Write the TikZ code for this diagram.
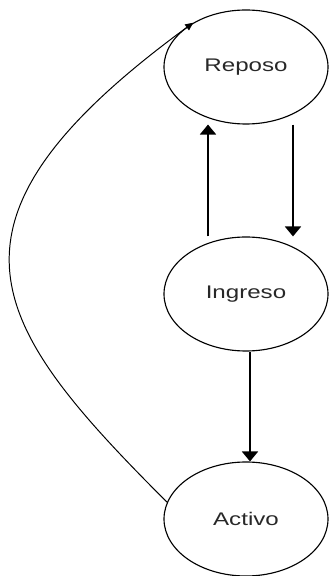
\documentclass[tikz,border=0pt]{standalone}
\usepackage{fontspec}
\setmainfont{Liberation Sans}
\usepackage{graphicx}
\usepackage{tikz}
\usetikzlibrary{shapes.geometric, arrows.meta, positioning}
\definecolor{statetext}{RGB}{40, 40, 40}

% horizontally stretched state label
\newcommand{\statelabel}[1]{\scalebox{1.32}[1]{#1}}

\begin{document}
\begin{tikzpicture}[
  state/.style={draw=black, ellipse, line width=0.8pt, minimum width=4.1cm, minimum height=2.85cm, inner sep=0pt, text=statetext, font=\fontsize{13}{15}\selectfont},
  arrow/.style={-{Triangle[length=2.5mm, width=4mm]}, line width=1.4pt},
  looparrow/.style={-{Triangle[length=2mm, width=1.8mm]}, line width=0.7pt}
]
\useasboundingbox (0, 0) rectangle (8.225, 14.4);

% States
\node[state] (reposo) at (6.15, 12.725) {\statelabel{Reposo}};
\node[state] (ingreso) at (6.15, 7.05) {\statelabel{Ingreso}};
\node[state] (activo) at (6.15, 1.425) {\statelabel{Activo}};

% Transitions between Reposo and Ingreso
\draw[arrow] ([xshift=-0.95cm]ingreso.north) -- ([xshift=-0.95cm]reposo.south);
\draw[arrow] ([xshift=1.175cm]reposo.south) -- ([xshift=1.175cm]ingreso.north);

% Ingreso to Activo
\draw[arrow] ([xshift=0.1cm]ingreso.south) -- ([xshift=0.1cm]activo.north);

% Activo back to Reposo
\draw[looparrow] (activo.168) .. controls (-0.25, 6.275) and (-2.05, 8.8) .. (reposo.140);

\end{tikzpicture}
\end{document}
